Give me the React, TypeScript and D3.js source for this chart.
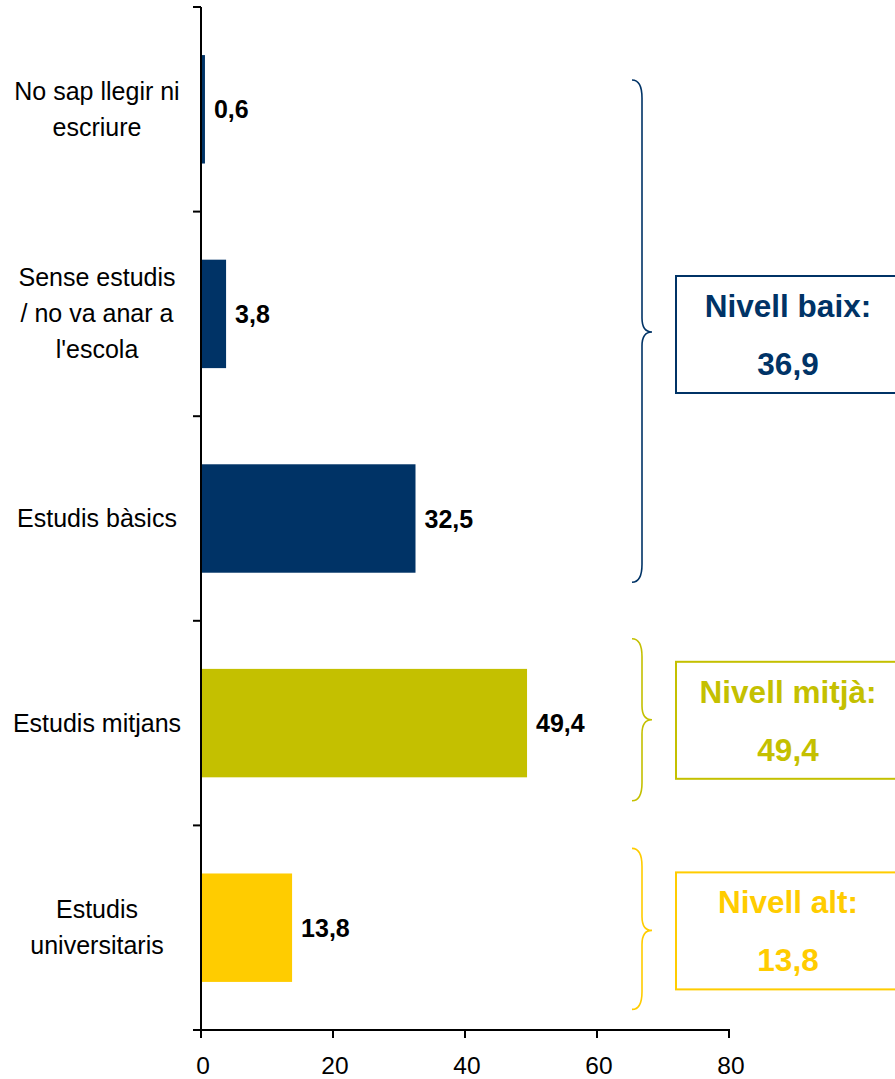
import React from "react";
import * as d3 from "d3";

const categories: string[][] = [
  ["No sap llegir ni", "escriure"],
  ["Sense estudis", "/ no va anar a", "l'escola"],
  ["Estudis bàsics"],
  ["Estudis mitjans"],
  ["Estudis", "universitaris"],
];
const values: number[] = [0.6, 3.8, 32.5, 49.4, 13.8];
const barColors: string[] = ["#003366", "#003366", "#003366", "#C4C000", "#FFCC00"];
const xTicks: number[] = [0, 20, 40, 60, 80];

const groupNames: string[] = ["Nivell baix:", "Nivell mitjà:", "Nivell alt:"];
const groupValues: number[] = [36.9, 49.4, 13.8];
const groupColors: string[] = ["#003366", "#C4C000", "#FFCC00"];

const W = 895;
const H = 1079;
const fontFam = "'Liberation Sans', Arial, Helvetica, sans-serif";

const locale = d3.formatLocale({ decimal: ",", thousands: ".", grouping: [3], currency: ["", "€"] });
const fmt = locale.format(".1f");

export default function App() {
  const x = d3.scaleLinear().domain([0, 80]).range([201, 729]);
  const y = d3
    .scaleBand<number>()
    .domain(d3.range(categories.length))
    .range([7, 1030])
    .paddingInner(0.47)
    .paddingOuter(0.235);
  const step = y.step();
  const bw = y.bandwidth();
  const bandTop = (i: number) => (y(i) as number) - (step - bw) / 2;
  const boundaries = d3.range(categories.length + 1).map((i) => 7 + i * step);
  const axisY = 1030;

  // brace extents (annotation, relative to the bands)
  const braceTop = [bandTop(0) + 73, bandTop(3) + 18, bandTop(4) + 23];
  const braceBot = [bandTop(2) + 166, bandTop(3) + 180, bandTop(4) + 184];
  const braceTip = [332, bandTop(3) + 99, bandTop(4) + 105];
  const boxTop = [276, bandTop(3) + 41, bandTop(4) + 47];

  const bracePath = (t: number, m: number, b: number) => {
    const x0 = 632, x1 = 642, x2 = 652;
    return `M${x0},${t} Q${x1},${t} ${x1},${t + 18} L${x1},${m - 14} Q${x1},${m} ${x2},${m} Q${x1},${m} ${x1},${m + 14} L${x1},${b - 18} Q${x1},${b} ${x0},${b}`;
  };

  return (
    <svg
      width={W}
      height={H}
      style={{ position: "absolute", left: 0, top: 0, background: "#fff" }}
      fontFamily={fontFam}
    >
      {/* bars */}
      {values.map((v, i) => (
        <rect
          key={"b" + i}
          x={x(0)}
          y={y(i)}
          width={x(v) - x(0)}
          height={bw}
          fill={barColors[i]}
        />
      ))}
      {/* value labels */}
      {values.map((v, i) => (
        <text
          key={"v" + i}
          x={x(v) + 9}
          y={(y(i) as number) + bw / 2 + 9}
          fontSize={25}
          fontWeight="bold"
          fill="#000"
        >
          {fmt(v)}
        </text>
      ))}
      {/* category labels */}
      {categories.map((lines, i) => {
        const c = (y(i) as number) + bw / 2;
        return (
          <text key={"c" + i} textAnchor="middle" fontSize={25} fill="#000">
            {lines.map((ln, j) => (
              <tspan key={j} x={97} y={c + (j - (lines.length - 1) / 2) * 36 + 8.5}>
                {ln}
              </tspan>
            ))}
          </text>
        );
      })}
      {/* y axis */}
      <line x1={x(0)} x2={x(0)} y1={7} y2={axisY + 8} stroke="#000" strokeWidth={2} />
      {boundaries.map((b, i) => (
        <line key={"yt" + i} x1={193} x2={x(0)} y1={b} y2={b} stroke="#000" strokeWidth={2} />
      ))}
      {/* x axis */}
      <line x1={193} x2={x(80) + 1} y1={axisY} y2={axisY} stroke="#000" strokeWidth={2} />
      {xTicks.map((t) => (
        <g key={"xt" + t}>
          <line x1={x(t)} x2={x(t)} y1={axisY} y2={axisY + 8} stroke="#000" strokeWidth={2} />
          <text x={x(t) + 2} y={1074} textAnchor="middle" fontSize={24.5} fill="#000">
            {t}
          </text>
        </g>
      ))}
      {/* braces and boxes */}
      {groupNames.map((g, k) => (
        <g key={"g" + k}>
          <path
            d={bracePath(braceTop[k], braceTip[k], braceBot[k])}
            fill="none"
            stroke={groupColors[k]}
            strokeWidth={1.6}
          />
          <rect
            x={676}
            y={boxTop[k]}
            width={224}
            height={117}
            fill="#fff"
            stroke={groupColors[k]}
            strokeWidth={2}
          />
          <text
            x={788}
            y={boxTop[k] + 41}
            textAnchor="middle"
            fontSize={31.5}
            fontWeight="bold"
            fill={groupColors[k]}
          >
            {g}
          </text>
          <text
            x={788}
            y={boxTop[k] + 99}
            textAnchor="middle"
            fontSize={31.5}
            fontWeight="bold"
            fill={groupColors[k]}
          >
            {fmt(groupValues[k])}
          </text>
        </g>
      ))}
    </svg>
  );
}
